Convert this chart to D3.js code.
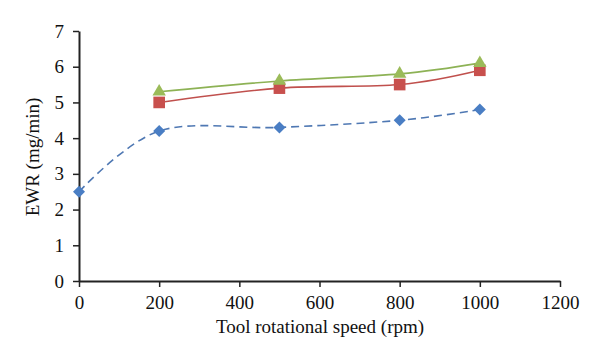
<!DOCTYPE html>
<html><head><meta charset="utf-8">
<script src="https://cdn.jsdelivr.net/npm/d3@7"></script>
<style>body{margin:0;background:#fff}</style>
</head><body>
<svg id="c" width="600" height="358"></svg>
<script>
const xTicks = [0, 200, 400, 600, 800, 1000, 1200];
const yTicks = [0, 1, 2, 3, 4, 5, 6, 7];
const blueX = [0, 200, 500, 800, 1000];
const blueY = [2.5, 4.2, 4.3, 4.5, 4.8];
const redX = [200, 500, 800, 1000];
const redY = [5.0, 5.4, 5.5, 5.9];
const greenX = [200, 500, 800, 1000];
const greenY = [5.3, 5.6, 5.8, 6.1];

const svg = d3.select("#c");
const font = "'Liberation Serif', 'DejaVu Serif', serif";
const fs = "19px";
const x = d3.scaleLinear().domain([0, 1200]).range([79, 560]);
const y = d3.scaleLinear().domain([0, 7]).range([281, 31]);

const axisColor = "#222";
const gx = svg.append("g").attr("transform", "translate(0,281)")
  .call(d3.axisBottom(x).tickValues(xTicks).tickFormat(d3.format("d")).tickSize(6).tickPadding(9).tickSizeOuter(0));
const gy = svg.append("g").attr("transform", "translate(79,0)")
  .call(d3.axisLeft(y).tickValues(yTicks).tickFormat(d3.format("d")).tickSize(6).tickPadding(9).tickSizeOuter(0));
[gx, gy].forEach(g => {
  g.select(".domain").attr("stroke", axisColor).attr("stroke-width", 2);
  g.selectAll(".tick line").attr("stroke", axisColor).attr("stroke-width", 1.5);
  g.selectAll(".tick text").attr("fill", "#111").style("font-family", font).style("font-size", fs);
});

svg.append("text").attr("x", 320).attr("y", 333).attr("text-anchor", "middle")
  .style("font-family", font).style("font-size", fs).attr("fill", "#111")
  .text("Tool rotational speed (rpm)");
svg.append("text").attr("transform", "translate(39,157) rotate(-90)").attr("text-anchor", "middle")
  .style("font-family", font).style("font-size", fs).attr("fill", "#111")
  .text("EWR (mg/min)");

const line = d3.line().x(d => x(d[0])).y(d => y(d[1])).curve(d3.curveCatmullRom.alpha(0));
const zip = (a, b) => a.map((v, i) => [v, b[i]]);

const series = [
  {xs: blueX, ys: blueY, line: "#4F78B3", marker: "#4A7EC4", dash: "8,5", sym: d3.symbolSquare, size: 72, rot: 45},
  {xs: redX, ys: redY, line: "#C0504D", marker: "#C8504D", dash: null, sym: d3.symbolSquare, size: 135, rot: 0},
  {xs: greenX, ys: greenY, line: "#8DB255", marker: "#9BBB59", dash: null, sym: d3.symbolTriangle, size: 78, rot: 0}
];
series.forEach(s => {
  const pts = zip(s.xs, s.ys);
  svg.append("path").attr("d", line(pts)).attr("fill", "none")
    .attr("stroke", s.line).attr("stroke-width", 1.6)
    .attr("stroke-dasharray", s.dash);
});
series.forEach(s => {
  const pts = zip(s.xs, s.ys);
  svg.append("g").selectAll("path").data(pts).join("path")
    .attr("transform", d => `translate(${x(d[0])},${y(d[1])}) rotate(${s.rot})`)
    .attr("d", d3.symbol().type(s.sym).size(s.size))
    .attr("fill", s.marker);
});
</script>
</body></html>
